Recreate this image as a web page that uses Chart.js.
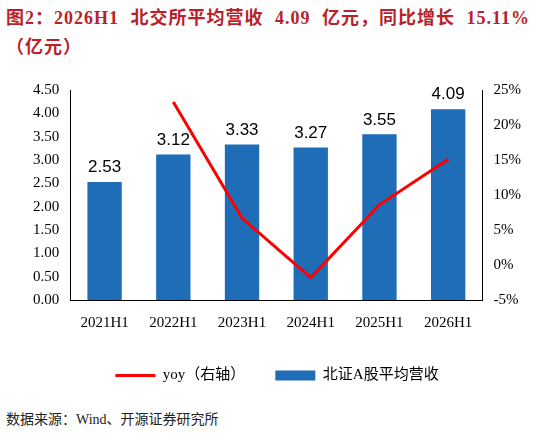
<!DOCTYPE html>
<html><head><meta charset="utf-8">
<script src="https://cdn.jsdelivr.net/npm/chart.js@4"></script>
<style>
body{margin:0;width:546px;height:437px;background:#fff;font-family:"Liberation Serif","Noto Sans CJK SC";position:relative;overflow:hidden}
#t{position:absolute;left:6px;top:4px;width:525px;color:#B8222A;font-weight:bold;font-size:18px;line-height:29px;letter-spacing:1px;word-spacing:6px}
#wrap{position:absolute;left:0;top:78px;width:546px;height:315px}
#src{position:absolute;left:6px;top:408px;font-size:14px;color:#222}
</style></head><body>
<div id="t">图2：2026H1 北交所平均营收 4.09 亿元，同比增长 15.11%（亿元）</div>
<div id="wrap"><canvas id="c"></canvas></div>
<div id="src">数据来源：Wind、开源证券研究所</div>
<script>
const categories=["2021H1","2022H1","2023H1","2024H1","2025H1","2026H1"];
const revenue=[2.53,3.12,3.33,3.27,3.55,4.09];
const yoy=[null,23.3,6.7,-1.8,8.6,15.11];
const font={family:'"Liberation Serif","Noto Sans CJK SC"',size:15};
const labels={id:'l',afterDatasetsDraw(ch){const m=ch.getDatasetMeta(0),x=ch.ctx;x.save();x.font='17px "Liberation Sans"';x.fillStyle='#000';x.textAlign='center';x.textBaseline='bottom';m.data.forEach((b,i)=>x.fillText(revenue[i].toFixed(2),b.x,b.y-6));x.restore();}};
new Chart(document.getElementById('c'),{data:{labels:categories,datasets:[
{type:'bar',label:'北证A股平均营收',data:revenue,backgroundColor:'#1F6DB7',yAxisID:'y',barPercentage:0.5,categoryPercentage:1,order:2,pointStyle:'rect'},
{type:'line',label:'yoy（右轴）',data:yoy,borderColor:'#FF0000',backgroundColor:'#FF0000',borderWidth:3,pointRadius:0,yAxisID:'y1',tension:0,order:1,pointStyle:'line'}]},
options:{responsive:true,maintainAspectRatio:false,animation:false,
layout:{padding:{left:30,right:22,top:6}},
plugins:{legend:{position:'bottom',labels:{font,color:'#000',usePointStyle:true,pointStyleWidth:40,boxHeight:10,padding:30}},tooltip:{enabled:false}},
scales:{x:{grid:{display:false},border:{color:'#000'},ticks:{font,color:'#000',maxRotation:0,padding:6}},
y:{min:0,max:4.5,ticks:{stepSize:0.5,font,color:'#000',callback:v=>v.toFixed(2)},grid:{display:false},border:{color:'#000'}},
y1:{position:'right',min:-5,max:25,ticks:{stepSize:5,font,color:'#000',callback:v=>v+'%'},grid:{display:false},border:{color:'#000'}}}},
plugins:[labels]});
</script></body></html>
